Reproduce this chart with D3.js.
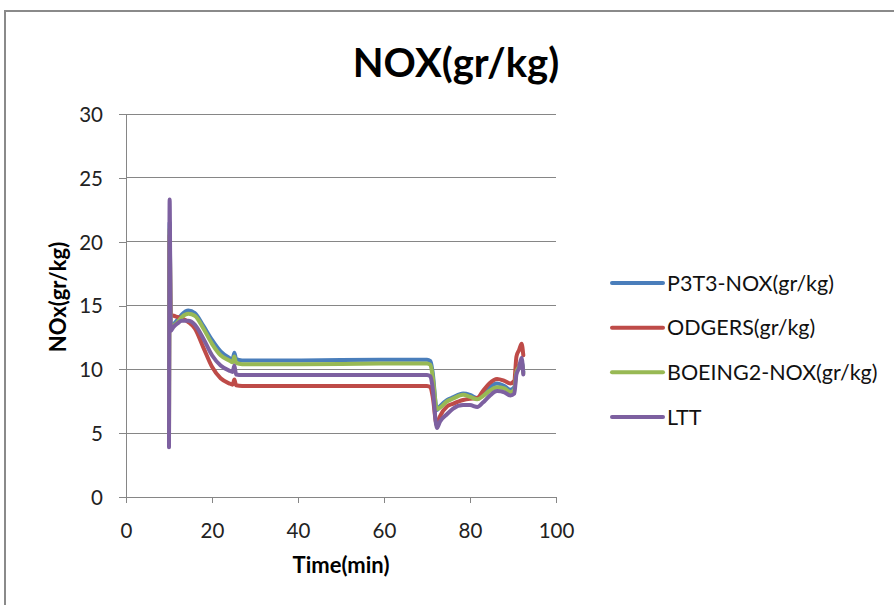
<!DOCTYPE html>
<html><head><meta charset="utf-8">
<script src="https://cdn.jsdelivr.net/npm/d3@7"></script>
<style>body{margin:0;background:#fff}svg{display:block}</style>
</head><body>
<svg id="c" width="894" height="605"></svg>
<script>
const title = "NOX(gr/kg)";
const xTitle = "Time(min)";
const yTitle = "NOx(gr/kg)";
const seriesNames = ["P3T3-NOX(gr/kg)", "ODGERS(gr/kg)", "BOEING2-NOX(gr/kg)", "LTT"];
const seriesColors = ["#4A7EBB", "#BE4B48", "#98B954", "#7D60A0"];
const xTicks = [0, 20, 40, 60, 80, 100];
const yTicks = [0, 5, 10, 15, 20, 25, 30];

const time = [10.0, 10.15, 10.4, 11, 12, 13, 14.5, 16, 18, 20, 22, 24, 24.8, 25.2, 25.6, 27, 40, 60, 70, 70.8, 71.3, 72.3, 73, 74.7, 76, 78.4, 80, 81.7, 83, 84.5, 86.3, 88, 89.4, 90.3, 90.8, 91.4, 92.0, 92.4];
const p3t3 =   [4.5, 21.5, 13.3, 13.5, 13.9, 14.3, 14.6, 14.4, 13.4, 12.3, 11.4, 10.9, 10.8, 11.3, 10.8, 10.7, 10.7, 10.75, 10.75, 10.65, 9.8, 6.8, 7.1, 7.6, 7.8, 8.1, 8.0, 7.75, 8.1, 8.6, 8.9, 8.7, 8.4, 8.6, 10.0, 10.3, 10.6, 9.8];
const odgers = [4.2, 20.5, 14.3, 14.2, 14.1, 14.0, 13.7, 13.2, 11.7, 10.2, 9.3, 8.9, 8.8, 9.2, 8.75, 8.7, 8.7, 8.7, 8.7, 8.6, 7.9, 5.6, 6.3, 7.1, 7.3, 7.6, 7.7, 7.75, 8.3, 8.9, 9.25, 9.1, 8.9, 9.1, 11.0, 11.5, 12.0, 11.1];
const boeing2 = [4.5, 21.0, 13.2, 13.4, 13.7, 14.1, 14.35, 14.2, 13.2, 12.0, 11.1, 10.7, 10.55, 11.0, 10.5, 10.4, 10.4, 10.45, 10.45, 10.35, 9.5, 6.9, 7.0, 7.5, 7.7, 8.0, 7.85, 7.65, 7.9, 8.3, 8.6, 8.5, 8.2, 8.4, 9.8, 10.2, 10.5, 9.7];
const ltt =    [3.9, 23.3, 13.0, 13.3, 13.6, 13.8, 13.8, 13.5, 12.4, 11.1, 10.3, 9.9, 9.8, 10.3, 9.6, 9.55, 9.55, 9.55, 9.55, 9.45, 8.6, 5.4, 5.9, 6.5, 6.9, 7.2, 7.2, 7.05, 7.4, 7.9, 8.3, 8.2, 7.95, 8.1, 9.6, 10.1, 10.9, 9.6];
const seriesValues = [p3t3, odgers, boeing2, ltt];

const FONT = "Lato, 'Open Sans', sans-serif";
const svg = d3.select("#c");
const grid = "#868686";

// outer frame
svg.append("rect").attr("x", 5).attr("y", 11).attr("width", 1000).attr("height", 1000)
  .attr("fill", "none").attr("stroke", "#8a8a8a").attr("stroke-width", 2);

const x = d3.scaleLinear().domain([0, 100]).range([126, 556]);
const y = d3.scaleLinear().domain([0, 30]).range([497, 114]);

// gridlines
svg.append("g").selectAll("line").data(yTicks.filter(d => d > 0)).join("line")
  .attr("x1", x(0)).attr("x2", x(100)).attr("y1", d => y(d)).attr("y2", d => y(d))
  .attr("stroke", grid).attr("stroke-width", 1).attr("shape-rendering", "crispEdges");

// y axis
const ya = svg.append("g").attr("transform", `translate(${x(0)},0)`)
  .call(d3.axisLeft(y).tickValues(yTicks).tickSize(7).tickPadding(16).tickFormat(d3.format("d")));
ya.selectAll("path,line").attr("stroke", grid).attr("shape-rendering", "crispEdges");
ya.selectAll("text").attr("font-family", FONT).attr("font-size", 20.5).attr("fill", "#222").attr("dy", "0.36em");

// x axis
const xa = svg.append("g").attr("transform", `translate(0,${y(0)})`)
  .call(d3.axisBottom(x).tickValues(xTicks).tickSize(6).tickFormat(d3.format("d")));
xa.select(".domain").attr("d", `M${x(0)-6},0.5H${x(100)}`);
xa.selectAll("path,line").attr("stroke", grid).attr("shape-rendering", "crispEdges");
xa.selectAll("text").attr("font-family", FONT).attr("font-size", 20.5).attr("fill", "#222")
  .attr("y", 41).attr("dy", 0);

// lines
const line = d3.line().x((d, i) => x(time[i])).y(d => y(d)).curve(d3.curveMonotoneX);
seriesValues.forEach((vals, k) => {
  svg.append("path").datum(vals).attr("d", line)
    .attr("fill", "none").attr("stroke", seriesColors[k]).attr("stroke-width", 4)
    .attr("stroke-linejoin", "round").attr("stroke-linecap", "round");
});

// title
svg.append("text").attr("x", 456).attr("y", 77).attr("text-anchor", "middle")
  .attr("font-family", FONT).attr("font-weight", "bold").attr("font-size", 40).attr("fill", "#000").text(title);

// axis titles
svg.append("text").attr("x", 341).attr("y", 573).attr("text-anchor", "middle")
  .attr("font-family", FONT).attr("font-weight", "bold").attr("font-size", 22).attr("fill", "#000").text(xTitle);
svg.append("text").attr("transform", "translate(66,297) rotate(-90)").attr("text-anchor", "middle")
  .attr("font-family", FONT).attr("font-weight", "bold").attr("font-size", 22).attr("fill", "#000").text(yTitle);

// legend
const lg = svg.append("g");
seriesNames.forEach((name, k) => {
  const yy = 283 + k * 44.67;
  lg.append("line").attr("x1", 612).attr("x2", 663).attr("y1", yy).attr("y2", yy)
    .attr("stroke", seriesColors[k]).attr("stroke-width", 4).attr("stroke-linecap", "round");
  lg.append("text").attr("x", 667).attr("y", yy).attr("dy", "0.36em")
    .attr("font-family", FONT).attr("font-size", 21.5).attr("fill", "#111").text(name);
});
</script>
</body></html>
